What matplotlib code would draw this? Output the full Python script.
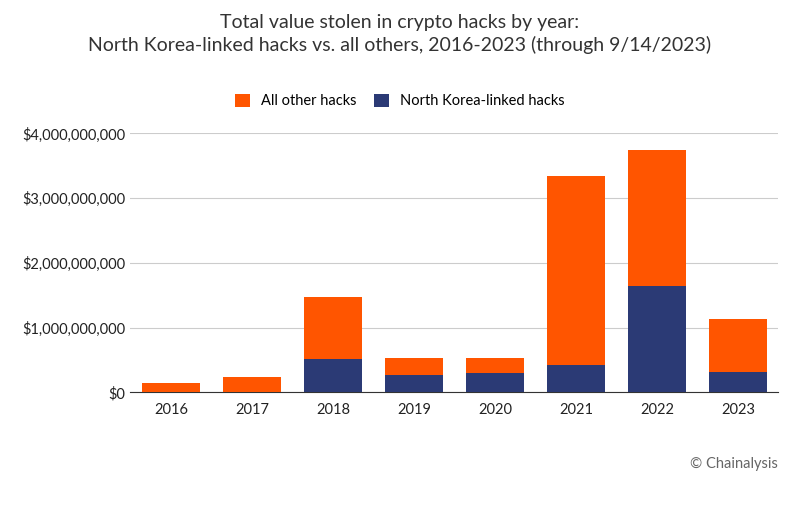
import matplotlib
matplotlib.use("Agg")
import matplotlib.pyplot as plt
from matplotlib.ticker import FuncFormatter

years = ["2016", "2017", "2018", "2019", "2020", "2021", "2022", "2023"]
nk = [0.005e9, 0.01e9, 0.51e9, 0.26e9, 0.29e9, 0.42e9, 1.64e9, 0.32e9]
total = [0.14e9, 0.23e9, 1.47e9, 0.53e9, 0.53e9, 3.34e9, 3.74e9, 1.13e9]
others = [t - n for t, n in zip(total, nk)]

plt.rcParams['font.family'] = ['Lato', 'DejaVu Sans']
fig = plt.figure(figsize=(8, 5.23), dpi=100)
ax = fig.add_axes([0.163, 0.25, 0.81, 0.495])
x = range(len(years))
ax.bar(x, nk, width=0.72, color="#2B3A75", label="North Korea-linked hacks", zorder=3)
ax.bar(x, others, bottom=nk, width=0.72, color="#FF5500", label="All other hacks", zorder=3)
ax.set_ylim(0, 4e9)
ax.set_xlim(-0.5, 7.5)
ax.set_yticks([0, 1e9, 2e9, 3e9, 4e9])
ax.yaxis.set_major_formatter(FuncFormatter(lambda v, p: f"${v:,.0f}"))
ax.set_xticks(list(x))
ax.set_xticklabels(years)
ax.grid(axis='y', color="#cccccc", linewidth=0.8, zorder=0)
for s in ['top', 'right', 'left']:
    ax.spines[s].set_visible(False)
ax.spines['bottom'].set_color("#333333")
ax.tick_params(length=0, labelsize=10.5, colors="#222222")
ax.tick_params(axis='x', pad=8)
h, l = ax.get_legend_handles_labels()
fig.legend(h[::-1], l[::-1], loc='center', bbox_to_anchor=(0.5, 0.807), ncol=2, frameon=False,
           fontsize=10.5, handlelength=1.0, handleheight=1.0, columnspacing=1.2)
fig.text(0.5, 0.935, "Total value stolen in crypto hacks by year:\nNorth Korea-linked hacks vs. all others, 2016-2023 (through 9/14/2023)",
         ha='center', va='center', fontsize=14, color="#333333", linespacing=1.3)
fig.text(0.972, 0.113, "© Chainalysis", ha='right', va='center', fontsize=10.5, color="#666666")
fig.savefig("out.png", dpi=100, facecolor="white")
